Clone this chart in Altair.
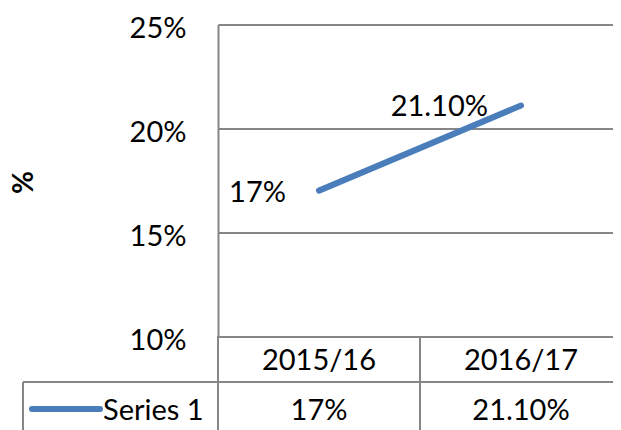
import altair as alt
import pandas as pd

categories = ["2015/16", "2016/17"]
values = [17, 21.1]
value_labels = ["17%", "21.10%"]
series_name = "Series 1"
y_ticks = [10, 15, 20, 25]

LINE_COLOR = "#4A7EBB"
GRID = "#868686"
FONT = "Lato"
FS = 29

df = pd.DataFrame({"cat": categories, "val": values, "lab": value_labels})
leg = pd.DataFrame({"name": [series_name]})

W, H = 395, 311.5
XR = 404  # category band range (table columns are 202px wide each)

xs = alt.Scale(type="band", domain=categories, paddingInner=0, paddingOuter=0, range=[0, XR])
ys = alt.Scale(domain=[10, 25], nice=False, zero=False)

def X(bp=0.5):
    return alt.X("cat:N", scale=xs, axis=None, bandPosition=bp)

base = alt.Chart(df)

line = base.mark_line(color=LINE_COLOR, strokeWidth=6, strokeCap="round").encode(
    x=X(),
    y=alt.Y(
        "val:Q",
        scale=ys,
        axis=alt.Axis(
            values=y_ticks,
            labelExpr="datum.value + '%'",
            grid=True,
            gridColor=GRID,
            gridWidth=2,
            domain=True,
            domainColor=GRID,
            domainWidth=2,
            ticks=False,
            labelFont=FONT,
            labelFontSize=FS,
            labelColor="#000000",
            labelPadding=32,
            labelOffset=4,
            title="%",
            titleFont=FONT,
            titleFontSize=28,
            titleFontWeight="bold",
            titleColor="#000000",
            titleAngle=270,
            titleX=-194,
            titleY=157.5,
            titleAlign="center",
            titleBaseline="middle",
        ),
    ),
)

point_labels = base.mark_text(
    align="right", baseline="middle", dx=-33, dy=2, font=FONT, fontSize=FS, color="#000000"
).encode(x=X(), y=alt.Y("val:Q", scale=ys), text="lab:N")

header = base.mark_text(
    align="center", baseline="middle", font=FONT, fontSize=FS, color="#000000", clip=False
).encode(x=X(), y=alt.value(H + 25), text="cat:N")

row = base.mark_text(
    align="center", baseline="middle", font=FONT, fontSize=FS, color="#000000", clip=False
).encode(x=X(), y=alt.value(H + 75), text="lab:N")

col_rules = base.mark_rule(color=GRID, strokeWidth=2).encode(
    x=X(0), y=alt.value(H), y2=alt.value(H + 100)
)

hline = alt.Chart(leg).mark_rule(color=GRID, strokeWidth=2).encode(
    x=alt.value(-195), x2=alt.value(XR), y=alt.value(H + 46)
)
vline = alt.Chart(leg).mark_rule(color=GRID, strokeWidth=2).encode(
    x=alt.value(-195), y=alt.value(H + 46), y2=alt.value(H + 100)
)
key = alt.Chart(leg).mark_rule(color=LINE_COLOR, strokeWidth=6, strokeCap="round").encode(
    x=alt.value(-186), x2=alt.value(-118), y=alt.value(H + 73)
)
key_text = alt.Chart(leg).mark_text(
    align="left", baseline="middle", font=FONT, fontSize=FS, color="#000000"
).encode(x=alt.value(-115), y=alt.value(H + 75), text="name:N")

chart = (
    alt.layer(col_rules, hline, vline, line, point_labels, header, row, key, key_text)
    .properties(
        width=W,
        height=H,
        autosize=alt.AutoSizeParams(type="none"),
        padding={"left": 210, "top": 16.5, "right": 0, "bottom": 94},
        background="white",
    )
    .configure_view(stroke=None)
)

chart.save("out.html", embed_options={"renderer": "svg", "actions": False})
